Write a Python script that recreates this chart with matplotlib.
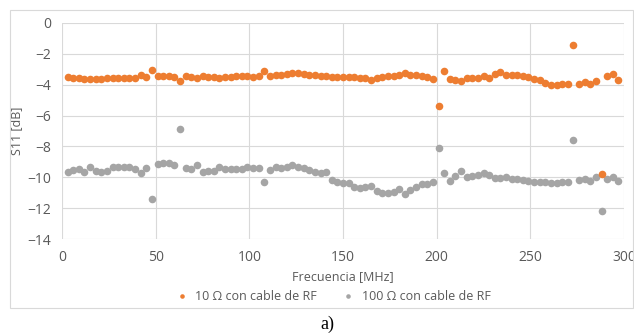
import matplotlib.pyplot as plt
from matplotlib.patches import Rectangle

# frecuencia [MHz], one point every 3 MHz
freq = list(range(3, 300, 3))

s11_10 = [
    -3.50, -3.55, -3.60, -3.62, -3.65, -3.65, -3.62, -3.60, -3.60, -3.58,
    -3.58, -3.55, -3.55, -3.38, -3.52, -3.05, -3.42, -3.42, -3.45, -3.50,
    -3.78, -3.45, -3.48, -3.60, -3.45, -3.50, -3.50, -3.55, -3.50, -3.48,
    -3.45, -3.45, -3.45, -3.50, -3.45, -3.10, -3.42, -3.40, -3.35, -3.30,
    -3.25, -3.27, -3.30, -3.35, -3.40, -3.45, -3.45, -3.48, -3.50, -3.50,
    -3.50, -3.52, -3.55, -3.60, -3.70, -3.58, -3.50, -3.45, -3.45, -3.38,
    -3.25, -3.35, -3.40, -3.45, -3.50, -3.65, -5.40, -3.12, -3.65, -3.70,
    -3.75, -3.60, -3.55, -3.60, -3.45, -3.60, -3.30, -3.20, -3.40, -3.40,
    -3.40, -3.45, -3.50, -3.65, -3.70, -3.88, -4.02, -4.02, -3.98, -3.95,
    -1.42, -3.95, -3.85, -3.95, -3.80, -9.75, -3.45, -3.30, -3.70,
]

s11_100 = [
    -9.63, -9.52, -9.48, -9.67, -9.31, -9.56, -9.63, -9.56, -9.35, -9.31,
    -9.35, -9.31, -9.45, -9.74, -9.42, -11.40, -9.13, -9.09, -9.09, -9.20,
    -6.85, -9.42, -9.48, -9.20, -9.63, -9.56, -9.60, -9.30, -9.44, -9.46,
    -9.44, -9.46, -9.32, -9.38, -9.42, -10.28, -9.50, -9.30, -9.38, -9.32,
    -9.20, -9.32, -9.38, -9.50, -9.62, -9.72, -9.67, -10.15, -10.28, -10.36,
    -10.34, -10.60, -10.70, -10.64, -10.55, -10.85, -10.98, -10.98, -10.92, -10.78,
    -11.07, -10.83, -10.64, -10.45, -10.43, -10.28, -8.12, -9.74, -10.20, -9.90,
    -9.60, -9.95, -9.90, -9.85, -9.70, -9.85, -10.05, -10.05, -9.95, -10.10,
    -10.10, -10.15, -10.20, -10.28, -10.28, -10.28, -10.38, -10.35, -10.30, -10.30,
    -7.58, -10.15, -10.10, -10.20, -9.95, -12.15, -10.10, -9.95, -10.22,
]

yticks = [0, -2, -4, -6, -8, -10, -12, -14]
xticks = [0, 50, 100, 150, 200, 250, 300]

plt.rcParams['font.family'] = ['Open Sans', 'DejaVu Sans']

fig = plt.figure(figsize=(6.34, 3.35), dpi=100)
fig.patches.append(Rectangle((10 / 634, 1 - 308 / 335), 623 / 634, 298.5 / 335,
                             transform=fig.transFigure, fill=False,
                             edgecolor='#d9d9d9', linewidth=0.8))

ax = fig.add_axes([62 / 634, 1 - 239.3 / 335, 562 / 634, 216.6 / 335])
ax.scatter(freq, s11_10, s=30, color='#ED7D31', linewidths=0, zorder=4,
           label='10 Ω con cable de RF')
ax.scatter(freq, s11_100, s=30, color='#A5A5A5', linewidths=0, zorder=3,
           label='100 Ω con cable de RF')

ax.set_xlim(0, 300)
ax.set_ylim(-14, 0)
ax.set_xticks(xticks)
ax.set_yticks(yticks)
ax.grid(True, color='#d9d9d9', linewidth=0.8)
ax.set_axisbelow(True)
for sp in ax.spines.values():
    sp.set_visible(False)
ax.tick_params(length=0, labelsize=10, labelcolor='#595959', pad=8)

ax.set_xlabel('Frecuencia [MHz]', fontsize=9, color='#595959', labelpad=3)
ax.set_ylabel('S11 [dB]', fontsize=9, color='#595959', labelpad=3)

ax.legend(loc='center', bbox_to_anchor=(330 / 634, 1 - 296 / 335),
          bbox_transform=fig.transFigure, ncol=2, frameon=False,
          fontsize=9, labelcolor='#595959', handletextpad=0.1,
          columnspacing=1.5, markerscale=0.6)

fig.text(327 / 634, 1 - 324 / 335, 'a)', family='Liberation Serif',
         fontsize=13, ha='center', va='center', color='black')

fig.savefig('out.png')
